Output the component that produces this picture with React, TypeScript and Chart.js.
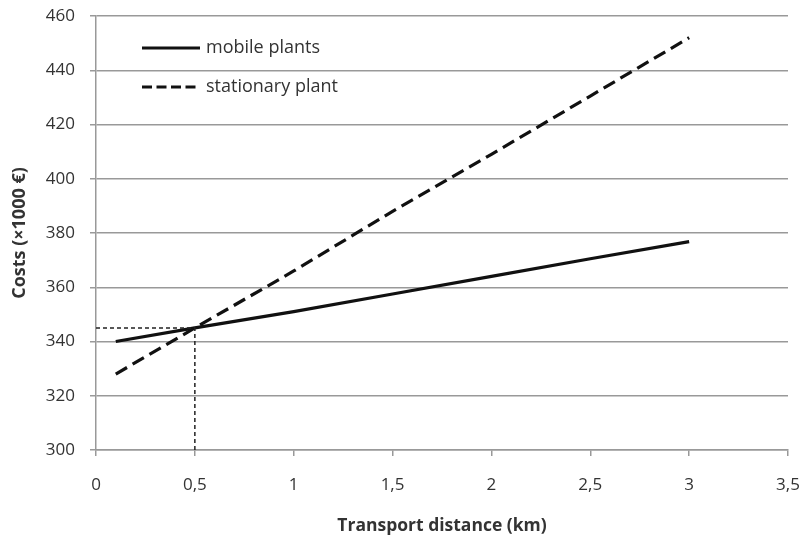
import React, { useEffect, useRef } from "react";
import { Chart, registerables } from "chart.js";

Chart.register(...registerables);

const distances = [0.1, 0.5, 1, 1.5, 2, 2.5, 3];
const mobileCosts = [340, 345, 351, 357.5, 364, 370.5, 376.8];
const stationaryCosts = [328, 345, 366, 388, 409, 430.5, 452];
const breakEvenX = 0.5;
const breakEvenY = 345;
const xTicks = [0, 0.5, 1, 1.5, 2, 2.5, 3, 3.5];
const yTicks = [300, 320, 340, 360, 380, 400, 420, 440, 460];

const FONT = "'Open Sans', 'Noto Sans', sans-serif";
const TEXT = "#333";
const fmt = (v: number) => String(v).replace(".", ",");

const legendPlugin = {
  id: "insideLegend",
  afterDatasetsDraw(chart: any) {
    const { ctx, chartArea } = chart;
    const items = chart.data.datasets.filter((d: any) => d.showInLegend);
    ctx.save();
    items.forEach((d: any, i: number) => {
      const y = chartArea.top + 32 + i * 39;
      const x0 = chartArea.left + 46;
      ctx.strokeStyle = d.borderColor;
      ctx.lineWidth = d.borderWidth;
      ctx.setLineDash(d.legendDash || []);
      ctx.beginPath();
      ctx.moveTo(x0, y);
      ctx.lineTo(x0 + 58, y);
      ctx.stroke();
      ctx.setLineDash([]);
      ctx.fillStyle = TEXT;
      ctx.font = `18px ${FONT}`;
      ctx.textBaseline = "middle";
      ctx.textAlign = "left";
      ctx.fillText(d.label, x0 + 64, y);
    });
    ctx.restore();
  },
};

export default function App() {
  const ref = useRef<HTMLCanvasElement>(null);
  useEffect(() => {
    if (!ref.current) return;
    const chart = new Chart(ref.current, {
      type: "line",
      data: {
        datasets: [
          {
            label: "break-even",
            data: [
              { x: 0, y: breakEvenY },
              { x: breakEvenX, y: breakEvenY },
              { x: breakEvenX, y: yTicks[0] },
            ],
            borderColor: "#222",
            borderWidth: 1.5,
            borderDash: [4, 3],
            pointRadius: 0,
            tension: 0,
          } as any,
          {
            label: "mobile plants",
            showInLegend: true,
            data: distances.map((x, i) => ({ x, y: mobileCosts[i] })),
            borderColor: "#111",
            borderWidth: 3.2,
            pointRadius: 0,
            tension: 0,
          },
          {
            label: "stationary plant",
            showInLegend: true,
            legendDash: [10, 4.5],
            data: distances.map((x, i) => ({ x, y: stationaryCosts[i] })),
            borderColor: "#111",
            borderWidth: 3.2,
            borderDash: [13, 6.5],
            pointRadius: 0,
            tension: 0,
          },
        ],
      },
      options: {
        animation: false,
        responsive: false,
        maintainAspectRatio: false,
        layout: { padding: { top: 16, right: 18, left: 0, bottom: 0 } },
        plugins: { legend: { display: false }, tooltip: { enabled: false } },
        scales: {
          x: {
            type: "linear",
            min: xTicks[0],
            max: xTicks[xTicks.length - 1],
            afterBuildTicks: (axis: any) => {
              axis.ticks = xTicks.map((v) => ({ value: v }));
            },
            afterFit: (axis: any) => {
              axis.height = 90;
              axis.paddingLeft = 0;
              axis.paddingRight = 0;
            },
            ticks: {
              callback: (v: any) => fmt(v),
              color: TEXT,
              font: { family: FONT, size: 17 },
              padding: 19,
              maxRotation: 0,
            },
            grid: { drawOnChartArea: false, drawTicks: true, tickLength: 6, color: "#999", lineWidth: 1.5 },
            border: { color: "#999", width: 1.5 },
            title: {
              display: true,
              text: "Transport distance (km)",
              color: TEXT,
              font: { family: FONT, size: 17.5, weight: "bold" },
              padding: { top: 0, bottom: 3 },
            },
          },
          y: {
            min: yTicks[0],
            max: yTicks[yTicks.length - 1],
            afterBuildTicks: (axis: any) => {
              axis.ticks = yTicks.map((v) => ({ value: v }));
            },
            afterFit: (axis: any) => {
              axis.width = 96;
              axis.paddingTop = 0;
              axis.paddingBottom = 0;
            },
            ticks: {
              color: TEXT,
              font: { family: FONT, size: 17 },
              padding: 15,
            },
            grid: { color: "#999", lineWidth: 1.5, tickLength: 6 },
            border: { color: "#999", width: 1.5 },
            title: {
              display: true,
              text: "Costs (×1000 €)",
              color: TEXT,
              font: { family: FONT, size: 18, weight: "bold" },
              padding: { top: 9, bottom: 0 },
            },
          },
        },
      },
      plugins: [legendPlugin],
    });
    return () => chart.destroy();
  }, []);
  return (
    <div style={{ position: "fixed", left: 0, top: 0, width: 806, height: 540, background: "#fff" }}>
      <canvas ref={ref} width={806} height={540} />
    </div>
  );
}
